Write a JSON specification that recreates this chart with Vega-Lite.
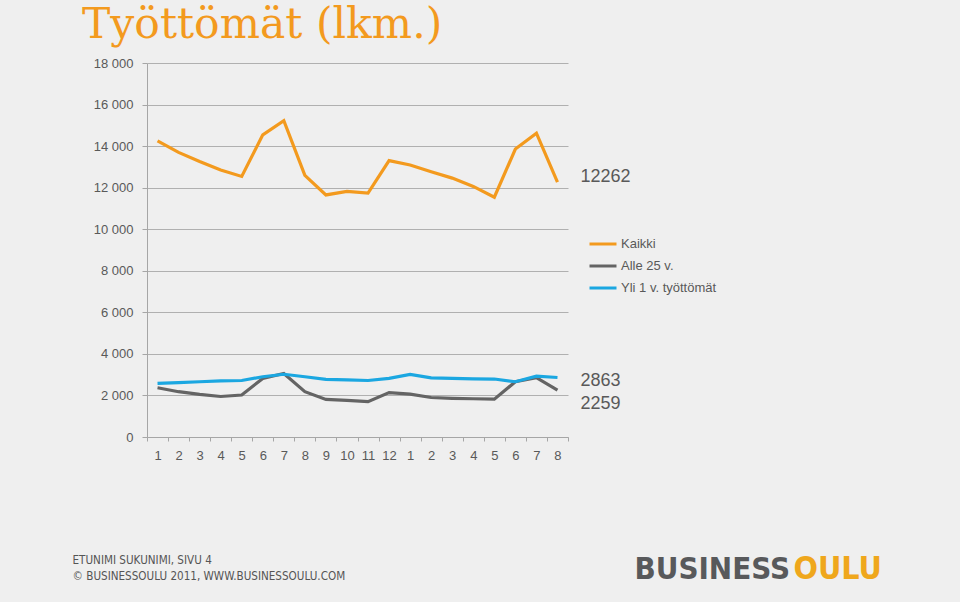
{
  "$schema": "https://vega.github.io/schema/vega-lite/v6.json",
  "width": 421,
  "height": 374,
  "autosize": {"type": "none"},
  "padding": {"left": 147, "top": 63, "right": 392, "bottom": 165},
  "background": "#efefef",
  "title": {
    "text": "Työttömät (lkm.)",
    "anchor": "start",
    "frame": "group",
    "dx": -65,
    "dy": 42,
    "offset": 19,
    "baseline": "alphabetic",
    "font": "DejaVu Serif",
    "fontSize": 42.5,
    "fontWeight": "normal",
    "color": "#F39A1E"
  },
  "config": {
    "locale": {"number": {"decimal": ",", "thousands": " ", "grouping": [3], "currency": ["", " €"]}},
    "view": {"stroke": null},
    "font": "Liberation Sans"
  },
  "data": {
    "values": [
      {"i": 1, "s": "Kaikki", "v": 14250}, {"i": 2, "s": "Kaikki", "v": 13700}, {"i": 3, "s": "Kaikki", "v": 13260}, {"i": 4, "s": "Kaikki", "v": 12850}, {"i": 5, "s": "Kaikki", "v": 12540},
      {"i": 6, "s": "Kaikki", "v": 14540}, {"i": 7, "s": "Kaikki", "v": 15220}, {"i": 8, "s": "Kaikki", "v": 12590}, {"i": 9, "s": "Kaikki", "v": 11650}, {"i": 10, "s": "Kaikki", "v": 11820},
      {"i": 11, "s": "Kaikki", "v": 11740}, {"i": 12, "s": "Kaikki", "v": 13300}, {"i": 13, "s": "Kaikki", "v": 13090}, {"i": 14, "s": "Kaikki", "v": 12770}, {"i": 15, "s": "Kaikki", "v": 12460},
      {"i": 16, "s": "Kaikki", "v": 12060}, {"i": 17, "s": "Kaikki", "v": 11540}, {"i": 18, "s": "Kaikki", "v": 13860}, {"i": 19, "s": "Kaikki", "v": 14620}, {"i": 20, "s": "Kaikki", "v": 12262},
      {"i": 1, "s": "Alle 25 v.", "v": 2370}, {"i": 2, "s": "Alle 25 v.", "v": 2180}, {"i": 3, "s": "Alle 25 v.", "v": 2050}, {"i": 4, "s": "Alle 25 v.", "v": 1950}, {"i": 5, "s": "Alle 25 v.", "v": 2020},
      {"i": 6, "s": "Alle 25 v.", "v": 2820}, {"i": 7, "s": "Alle 25 v.", "v": 3060}, {"i": 8, "s": "Alle 25 v.", "v": 2180}, {"i": 9, "s": "Alle 25 v.", "v": 1810}, {"i": 10, "s": "Alle 25 v.", "v": 1760},
      {"i": 11, "s": "Alle 25 v.", "v": 1700}, {"i": 12, "s": "Alle 25 v.", "v": 2140}, {"i": 13, "s": "Alle 25 v.", "v": 2060}, {"i": 14, "s": "Alle 25 v.", "v": 1900}, {"i": 15, "s": "Alle 25 v.", "v": 1860},
      {"i": 16, "s": "Alle 25 v.", "v": 1840}, {"i": 17, "s": "Alle 25 v.", "v": 1820}, {"i": 18, "s": "Alle 25 v.", "v": 2660}, {"i": 19, "s": "Alle 25 v.", "v": 2860}, {"i": 20, "s": "Alle 25 v.", "v": 2259},
      {"i": 1, "s": "Yli 1 v. työttömät", "v": 2580}, {"i": 2, "s": "Yli 1 v. työttömät", "v": 2620}, {"i": 3, "s": "Yli 1 v. työttömät", "v": 2660}, {"i": 4, "s": "Yli 1 v. työttömät", "v": 2700}, {"i": 5, "s": "Yli 1 v. työttömät", "v": 2720},
      {"i": 6, "s": "Yli 1 v. työttömät", "v": 2900}, {"i": 7, "s": "Yli 1 v. työttömät", "v": 3020}, {"i": 8, "s": "Yli 1 v. työttömät", "v": 2900}, {"i": 9, "s": "Yli 1 v. työttömät", "v": 2770}, {"i": 10, "s": "Yli 1 v. työttömät", "v": 2750},
      {"i": 11, "s": "Yli 1 v. työttömät", "v": 2720}, {"i": 12, "s": "Yli 1 v. työttömät", "v": 2820}, {"i": 13, "s": "Yli 1 v. työttömät", "v": 3010}, {"i": 14, "s": "Yli 1 v. työttömät", "v": 2850}, {"i": 15, "s": "Yli 1 v. työttömät", "v": 2820},
      {"i": 16, "s": "Yli 1 v. työttömät", "v": 2800}, {"i": 17, "s": "Yli 1 v. työttömät", "v": 2790}, {"i": 18, "s": "Yli 1 v. työttömät", "v": 2660}, {"i": 19, "s": "Yli 1 v. työttömät", "v": 2930}, {"i": 20, "s": "Yli 1 v. työttömät", "v": 2863}
    ]
  },
  "resolve": {"axis": {"y": "independent"}},
  "encoding": {
    "x": {
      "field": "i",
      "type": "ordinal",
      "bandPosition": 0.5,
      "scale": {"type": "band", "paddingInner": 0, "paddingOuter": 0},
      "axis": {
        "labelExpr": "datum.value > 12 ? datum.value - 12 : datum.value",
        "labelAngle": 0,
        "tickBand": "extent",
        "grid": false,
        "domainColor": "#a6a6a6",
        "tickColor": "#a6a6a6",
        "tickSize": 4,
        "labelPadding": 8,
        "labelFontSize": 13,
        "labelColor": "#595959",
        "title": ["ETUNIMI SUKUNIMI, SIVU 4", "© BUSINESSOULU 2011, WWW.BUSINESSOULU.COM"],
        "titleX": -75,
        "titleY": 117,
        "titleAlign": "left",
        "titleAnchor": "start",
        "titleBaseline": "top",
        "titleLineHeight": 16,
        "titleFont": "DejaVu Sans Condensed",
        "titleFontSize": 11.6,
        "titleFontWeight": "normal",
        "titleColor": "#555555"
      }
    }
  },
  "layer": [
    {
      "mark": {"type": "line", "strokeWidth": 3.2},
      "encoding": {
        "y": {
          "field": "v",
          "type": "quantitative",
          "scale": {"domain": [0, 18000], "nice": false},
          "axis": {
            "values": [0, 2000, 4000, 6000, 8000, 10000, 12000, 14000, 16000, 18000],
            "format": ",d",
            "grid": true,
            "gridColor": "#b0b0b0",
            "domainColor": "#a6a6a6",
            "tickColor": "#a6a6a6",
            "tickSize": 5,
            "labelPadding": 9,
            "labelFontSize": 13,
            "labelColor": "#595959",
            "title": "BUSINESS",
            "titleAngle": 0,
            "titleX": 487,
            "titleY": 515,
            "titleAlign": "left",
            "titleAnchor": "start",
            "titleBaseline": "alphabetic",
            "titleFont": "DejaVu Sans Condensed",
            "titleFontWeight": "bold",
            "titleFontSize": 31,
            "titleColor": "#58595b"
          }
        },
        "color": {
          "field": "s",
          "type": "nominal",
          "scale": {"domain": ["Kaikki", "Alle 25 v.", "Yli 1 v. työttömät"], "range": ["#F39A1E", "#646464", "#1BA7E1"]},
          "legend": {
            "title": null,
            "orient": "none",
            "legendX": 441,
            "legendY": 166,
            "symbolType": "stroke",
            "symbolSize": 729,
            "symbolStrokeWidth": 3,
            "rowPadding": -4.5,
            "labelOffset": 3,
            "labelFontSize": 13,
            "labelColor": "#595959"
          }
        }
      }
    },
    {
      "transform": [{"filter": "datum.i == 20 && datum.s == 'Kaikki'"}],
      "mark": {"type": "text", "align": "left", "baseline": "middle", "dx": 23, "dy": -5.5, "fontSize": 18, "color": "#595959"},
      "encoding": {
        "y": {
          "field": "v",
          "type": "quantitative",
          "axis": {
            "orient": "right",
            "labels": false,
            "ticks": false,
            "domain": false,
            "grid": false,
            "title": "OULU",
            "titleAngle": 0,
            "titleX": 225,
            "titleY": 515,
            "titleAlign": "left",
            "titleAnchor": "start",
            "titleBaseline": "alphabetic",
            "titleFont": "DejaVu Sans Condensed",
            "titleFontWeight": "bold",
            "titleFontSize": 32,
            "titleColor": "#EFA71C"
          }
        },
        "text": {"field": "v", "type": "quantitative", "format": "d"}
      }
    },
    {
      "transform": [{"filter": "datum.i == 20 && datum.s == 'Yli 1 v. työttömät'"}],
      "mark": {"type": "text", "align": "left", "baseline": "middle", "dx": 23, "dy": 3.6, "fontSize": 18, "color": "#595959"},
      "encoding": {
        "y": {"field": "v", "type": "quantitative", "axis": null},
        "text": {"field": "v", "type": "quantitative", "format": "d"}
      }
    },
    {
      "transform": [{"filter": "datum.i == 20 && datum.s == 'Alle 25 v.'"}],
      "mark": {"type": "text", "align": "left", "baseline": "middle", "dx": 23, "dy": 14, "fontSize": 18, "color": "#595959"},
      "encoding": {
        "y": {"field": "v", "type": "quantitative", "axis": null},
        "text": {"field": "v", "type": "quantitative", "format": "d"}
      }
    }
  ]
}
